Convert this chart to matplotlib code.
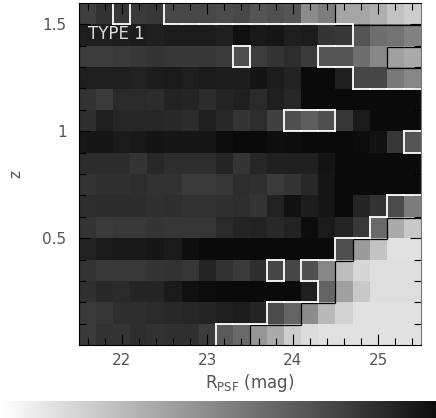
import numpy as np
from matplotlib import pyplot as plt
from matplotlib.collections import LineCollection
from matplotlib.ticker import FixedLocator
from matplotlib.transforms import ScaledTranslation

plt.rcParams['font.family'] = 'DejaVu Sans'
plt.rcParams['mathtext.default'] = 'regular'

# grey level of each cell, one list per z row, top row first
z_155 = [62, 50, 55, 58, 55, 72, 72, 72, 75, 72, 85, 80, 85, 140, 125, 165, 165, 175, 195, 205]
z_145 = [30, 30, 30, 28, 32, 28, 28, 28, 32, 15, 24, 22, 30, 28, 52, 55, 85, 110, 115, 130]
z_135 = [60, 60, 58, 55, 52, 55, 55, 55, 58, 78, 60, 52, 45, 58, 85, 85, 110, 135, 160, 170]
z_125 = [30, 30, 30, 33, 28, 26, 30, 26, 28, 28, 20, 28, 34, 10, 10, 30, 70, 70, 120, 135]
z_115 = [50, 58, 42, 42, 44, 34, 36, 44, 36, 32, 42, 30, 38, 10, 10, 10, 10, 10, 10, 10]
z_105 = [46, 30, 38, 38, 38, 40, 44, 32, 40, 52, 45, 65, 80, 95, 80, 55, 26, 10, 10, 10]
z_095 = [22, 22, 26, 24, 20, 22, 22, 22, 12, 10, 10, 14, 12, 10, 10, 10, 12, 18, 55, 85]
z_085 = [44, 44, 44, 52, 40, 46, 46, 46, 36, 52, 38, 32, 32, 32, 20, 10, 10, 10, 10, 10]
z_075 = [52, 48, 48, 45, 50, 50, 58, 58, 55, 45, 48, 58, 52, 40, 22, 10, 10, 10, 10, 10]
z_065 = [46, 44, 44, 44, 48, 46, 50, 50, 48, 46, 52, 34, 18, 28, 22, 10, 36, 50, 75, 125]
z_055 = [52, 58, 56, 56, 52, 54, 54, 54, 42, 36, 34, 40, 34, 12, 26, 36, 56, 105, 170, 200]
z_045 = [34, 26, 24, 24, 22, 26, 14, 10, 10, 10, 10, 10, 10, 10, 10, 80, 155, 195, 225, 225]
z_035 = [52, 56, 56, 56, 52, 50, 54, 36, 50, 58, 46, 70, 70, 80, 135, 190, 215, 222, 222, 222]
z_025 = [48, 40, 42, 36, 36, 26, 16, 12, 10, 10, 10, 10, 10, 30, 100, 160, 200, 222, 222, 222]
z_015 = [58, 54, 46, 46, 42, 40, 38, 36, 30, 28, 36, 75, 100, 140, 185, 210, 225, 225, 225, 225]
z_005 = [58, 50, 52, 46, 50, 48, 48, 60, 90, 105, 150, 170, 205, 220, 225, 225, 225, 225, 225, 225]
rows = [z_155, z_145, z_135, z_125, z_115, z_105, z_095, z_085,
        z_075, z_065, z_055, z_045, z_035, z_025, z_015, z_005]

# columns inside the white contour, per row, top row first
white_cols = [
    [2] + list(range(5, 20)), list(range(16, 20)), [9] + list(range(14, 20)),
    list(range(16, 20)), [], [12, 13, 14], [19], [], [], [18, 19],
    [17, 18, 19], list(range(15, 20)), [11] + list(range(13, 20)),
    list(range(14, 20)), list(range(11, 20)), list(range(8, 20)),
]
# same thing for the black contour
black_cols = [
    list(range(15, 20)), [], [18, 19], [], [], [], [], [], [], [],
    [18, 19], list(range(16, 20)), list(range(15, 20)),
    list(range(15, 20)), list(range(13, 20)), list(range(10, 20)),
]

mag_edges = np.arange(21.5, 25.51, 0.2)
z_edges = np.arange(1.6, -0.01, -0.1)


def contour_segments(cols_by_row):
    mask = np.zeros((len(rows), len(rows[0])), dtype=bool)
    for i, cols in enumerate(cols_by_row):
        mask[i, cols] = True
    padded = np.pad(mask, 1)
    segments = []
    for i in range(mask.shape[0]):
        for j in range(mask.shape[1]):
            if not mask[i, j]:
                continue
            x0, x1 = mag_edges[j], mag_edges[j + 1]
            y0, y1 = z_edges[i], z_edges[i + 1]
            if not padded[i, j + 1] and i > 0:
                segments.append([(x0, y0), (x1, y0)])
            if not padded[i + 2, j + 1] and i < mask.shape[0] - 1:
                segments.append([(x0, y1), (x1, y1)])
            if not padded[i + 1, j]:
                segments.append([(x0, y0), (x0, y1)])
            if not padded[i + 1, j + 2] and j < mask.shape[1] - 1:
                segments.append([(x1, y0), (x1, y1)])
    return segments


fig = plt.figure(figsize=(4.36, 4.18), dpi=100)
ax = fig.add_axes([79 / 436, 1 - 345 / 418, 342 / 436, 342 / 418])
ax.pcolormesh(mag_edges, z_edges, np.array(rows), cmap='gray', vmin=0, vmax=255)

# black contour sits one pixel off the white one in the original
shift = ScaledTranslation(0, -1 / 100, fig.dpi_scale_trans)
ax.add_collection(LineCollection(contour_segments(black_cols), colors='black',
                                 linewidths=0.9, transform=ax.transData + shift))
ax.add_collection(LineCollection(contour_segments(white_cols), colors='white',
                                 linewidths=1.3, capstyle='projecting'))

ax.set_xlim(21.5, 25.5)
ax.set_ylim(0, 1.6)
ax.set_xticks([22, 23, 24, 25])
ax.set_yticks([0.5, 1, 1.5])
ax.set_yticklabels(['0.5', '1', '1.5'])
ax.xaxis.set_minor_locator(FixedLocator(np.arange(21.6, 25.5, 0.2)))
ax.yaxis.set_minor_locator(FixedLocator(np.arange(0.1, 1.6, 0.1)))
ax.tick_params(which='major', direction='in', top=True, right=True, length=8, width=0.8,
               labelsize=11, labelcolor='#555555', pad=9)
ax.tick_params(axis='x', which='major', pad=6)
ax.tick_params(which='minor', direction='in', top=True, right=True, length=5, width=0.8)
ax.set_xlabel(r'R$_{PSF}$ (mag)', fontsize=12, color='#555555', labelpad=3)
ax.set_ylabel('z', fontsize=11, color='#555555', labelpad=14)
ax.text(21.605, 1.455, 'TYPE 1', color='#dddddd', fontsize=12, va='center')
for side in ax.spines.values():
    side.set_linewidth(0.8)
ax.spines['right'].set_color('#777777')

# gradient strip along the bottom edge
strip = fig.add_axes([0, 0, 1, 17 / 418])
strip.imshow(np.linspace(1, 0.05, 256)[None, :], cmap='gray', vmin=0, vmax=1, aspect='auto')
strip.axis('off')

fig.savefig('out.png', dpi=100)
